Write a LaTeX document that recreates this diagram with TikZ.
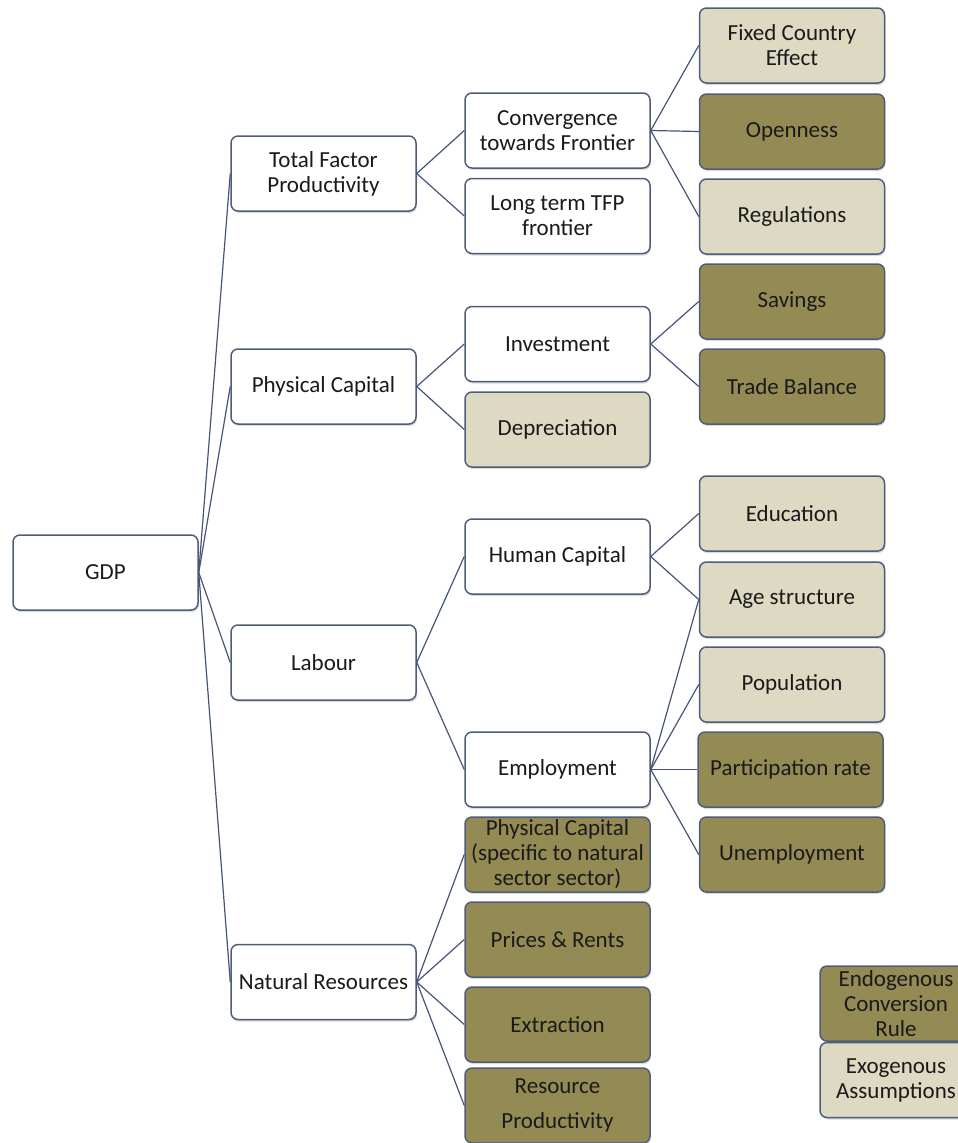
\documentclass[tikz,border=0pt]{standalone}
\usepackage{fontspec}
\setmainfont{Carlito}
\usetikzlibrary{shadows}
\definecolor{bordc}{HTML}{4F5D7A}
\definecolor{linec}{HTML}{44547A}
\definecolor{lightf}{HTML}{DDD9C3}
\definecolor{darkf}{HTML}{948A54}
\definecolor{txt}{HTML}{1A1A1A}
\tikzset{
  box/.style={draw=bordc, line width=1.5pt, rounded corners=7pt,
    minimum width=185pt, minimum height=75pt, inner sep=0pt, align=center,
    text=txt, font=\fontsize{23}{25}\selectfont,
    general shadow={fill=black!40, opacity=0.35, shadow xshift=1pt, shadow yshift=-2pt}},
  wbox/.style={box, fill=white},
  lbox/.style={box, fill=lightf},
  dbox/.style={box, fill=darkf},
  conn/.style={draw=linec, line width=1.2pt}
}
\begin{document}
\begin{tikzpicture}[x=1pt,y=-1pt]
\useasboundingbox (0,0) rectangle (958,1143);
% level 0
\node[wbox] (gdp) at (105.5,572.5) {GDP};
% level 1
\node[wbox] (tfp) at (323.5,173.5) {Total Factor\\Productivity};
\node[wbox] (pc) at (323.5,386.5) {Physical Capital};
\node[wbox] (lab) at (323.5,662.5) {Labour};
\node[wbox] (nr) at (323.5,982) {Natural Resources};
% level 2
\node[wbox] (conv) at (557.5,130.5) {Convergence\\towards Frontier};
\node[wbox] (ltfp) at (557.5,216) {Long term TFP\\frontier};
\node[wbox] (inv) at (557.5,344) {Investment};
\node[lbox] (dep) at (557.5,429.5) {Depreciation};
\node[wbox] (hum) at (557.5,556.5) {Human Capital};
\node[wbox] (emp) at (557.5,769.5) {Employment};
\node[dbox] (pcs) at (557.5,854.5) {Physical Capital\\(specific to natural\\sector sector)};
\node[dbox] (pri) at (557.5,939.5) {Prices \& Rents};
\node[dbox] (ext) at (557.5,1024.5) {Extraction};
\node[dbox] (rp) at (557.5,1105.5) {Resource\\[10pt]Productivity};
% level 3
\node[lbox] (fix) at (792,45.5) {Fixed Country\\Effect};
\node[dbox] (open) at (792,131.5) {Openness};
\node[lbox] (reg) at (792,216.5) {Regulations};
\node[dbox] (sav) at (792,301.5) {Savings};
\node[dbox] (tb) at (792,386.5) {Trade Balance};
\node[lbox] (edu) at (792,513.5) {Education};
\node[lbox] (age) at (792,599.5) {Age structure};
\node[lbox] (pop) at (792,684.5) {Population};
\node[dbox] (part) at (790.5,769.5) {Participation rate};
\node[dbox] (unemp) at (792,854.5) {Unemployment};
% legend
\node[dbox, minimum width=152pt] (endo) at (896,1003.5) {Endogenous\\Conversion\\Rule};
\node[lbox, minimum width=152pt] (exo) at (896,1080) {Exogenous\\Assumptions};
% connectors
\foreach \c in {tfp,pc,lab,nr} \draw[conn] (gdp.east) -- (\c.west);
\foreach \c in {conv,ltfp} \draw[conn] (tfp.east) -- (\c.west);
\foreach \c in {inv,dep} \draw[conn] (pc.east) -- (\c.west);
\foreach \c in {hum,emp} \draw[conn] (lab.east) -- (\c.west);
\foreach \c in {pcs,pri,ext,rp} \draw[conn] (nr.east) -- (\c.west);
\foreach \c in {fix,open,reg} \draw[conn] (conv.east) -- (\c.west);
\foreach \c in {sav,tb} \draw[conn] (inv.east) -- (\c.west);
\foreach \c in {edu,age} \draw[conn] (hum.east) -- (\c.west);
\foreach \c in {age,pop,part,unemp} \draw[conn] (emp.east) -- (\c.west);
\end{tikzpicture}
\end{document}
